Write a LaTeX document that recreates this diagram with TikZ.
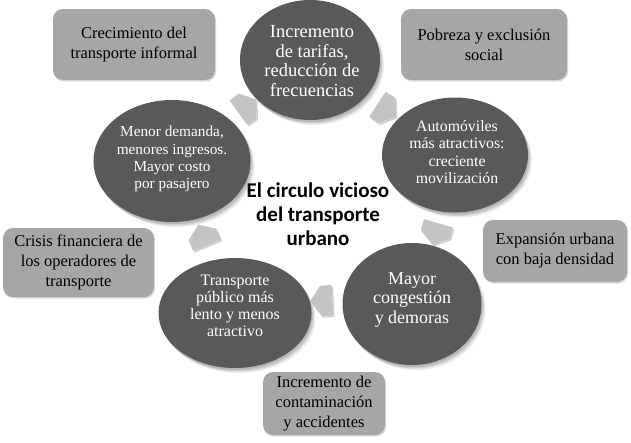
\documentclass[tikz,border=0pt]{standalone}
\usepackage{fontspec}
\setmainfont{Liberation Serif}
\newfontfamily\titlefont{Carlito}
\usetikzlibrary{shapes.geometric,shapes.arrows,shadows,calc}
\definecolor{circfill}{HTML}{595959}
\definecolor{boxfill}{HTML}{A6A6A6}
\definecolor{arrfill}{HTML}{C4C4C4}
\tikzset{
  softshade/.style={
    drop shadow={shadow xshift=1pt, shadow yshift=-2pt, opacity=.12, fill=black},
    drop shadow={shadow xshift=2.5pt, shadow yshift=-3.5pt, opacity=.12, fill=black},
    drop shadow={shadow xshift=4pt, shadow yshift=-5pt, opacity=.08, fill=black}},
  cyccirc/.style={ellipse, fill=circfill, draw=none, inner sep=0pt, softshade},
  circtext/.style={text=white, align=center, inner sep=0pt},
  sidebox/.style={rectangle, rounded corners=10pt, fill=boxfill, draw=none, align=center,
    inner sep=0pt, font=\fontsize{16.5}{20}\selectfont,
    drop shadow={shadow xshift=1pt, shadow yshift=-1.5pt, opacity=.15, fill=black}},
  cycarrow/.style={single arrow, single arrow head extend=0pt, single arrow tip angle=110,
    minimum width=30pt, minimum height=22pt, inner sep=0pt, fill=arrfill, draw=none,
    sloped, allow upside down,
    drop shadow={shadow xshift=1.5pt, shadow yshift=-2pt, opacity=.18, fill=black}},
  titletext/.style={align=center, inner sep=0pt,
    font=\fontsize{21}{24}\titlefont\bfseries}
}
\begin{document}
\begin{tikzpicture}[x=1pt,y=-1pt]
\useasboundingbox (0,0) rectangle (631,442);
% cycle ellipses
\node[cyccirc, minimum width=140pt, minimum height=120pt] (c1) at (310,60) {};
\node[cyccirc, minimum width=146pt, minimum height=115pt] (c2) at (455,155) {};
\node[cyccirc, minimum width=139pt, minimum height=122pt] (c3) at (412,304) {};
\node[cyccirc, minimum width=153pt, minimum height=110pt] (c4) at (235,313) {};
\node[cyccirc, minimum width=157pt, minimum height=122pt] (c5) at (172,161) {};
% texts in ellipses
\node[circtext, font=\fontsize{18.5}{19.8}\selectfont] (t1) at (312,61)
  {Incremento\\de tarifas,\\reducción de\\frecuencias};
\node[circtext, font=\fontsize{15.8}{17.2}\selectfont] (t2) at (457,152)
  {Automóviles\\más atractivos:\\creciente\\movilización};
\node[circtext, font=\fontsize{18}{19.8}\selectfont] (t3) at (412,300)
  {Mayor\\congestión\\y demoras};
\node[circtext, font=\fontsize{16}{17.2}\selectfont] (t4) at (235,306)
  {Transporte\\público más\\lento y menos\\atractivo};
\node[circtext, font=\fontsize{15.3}{17.2}\selectfont] (t5) at (172,159)
  {Menor demanda,\\menores ingresos.\\Mayor costo\\por pasajero};
% cycle arrows
\path (c5) -- node[cycarrow] (a1) {} (c1);
\path (c1) -- node[cycarrow] (a2) {} (c2);
\path (c2) -- node[cycarrow, yshift=3pt] (a3) {} (c3);
\path (c3) -- node[cycarrow, yshift=-8pt] (a4) {} (c4);
\path (c4) -- node[cycarrow] (a5) {} (c5);
% side boxes
\node[sidebox, minimum width=162pt, minimum height=71pt] (b1) at (134,44.5)
  {Crecimiento del\\transporte informal};
\node[sidebox, minimum width=166pt, minimum height=71pt] (b2) at (484,44.5)
  {Pobreza y exclusión\\social};
\node[sidebox, minimum width=144pt, minimum height=62pt] (b3) at (555,251)
  {Expansión urbana\\con baja densidad};
\node[sidebox, minimum width=122pt, minimum height=63pt] (b4) at (324,403.5)
  {Incremento de\\contaminación\\y accidentes};
\node[sidebox, minimum width=151pt, minimum height=69pt] (b5) at (78.5,262.5)
  {Crisis financiera de\\los operadores de\\transporte};
% title
\node[titletext] (title) at (318,214) {El circulo vicioso\\del transporte\\urbano};
\end{tikzpicture}
\end{document}
